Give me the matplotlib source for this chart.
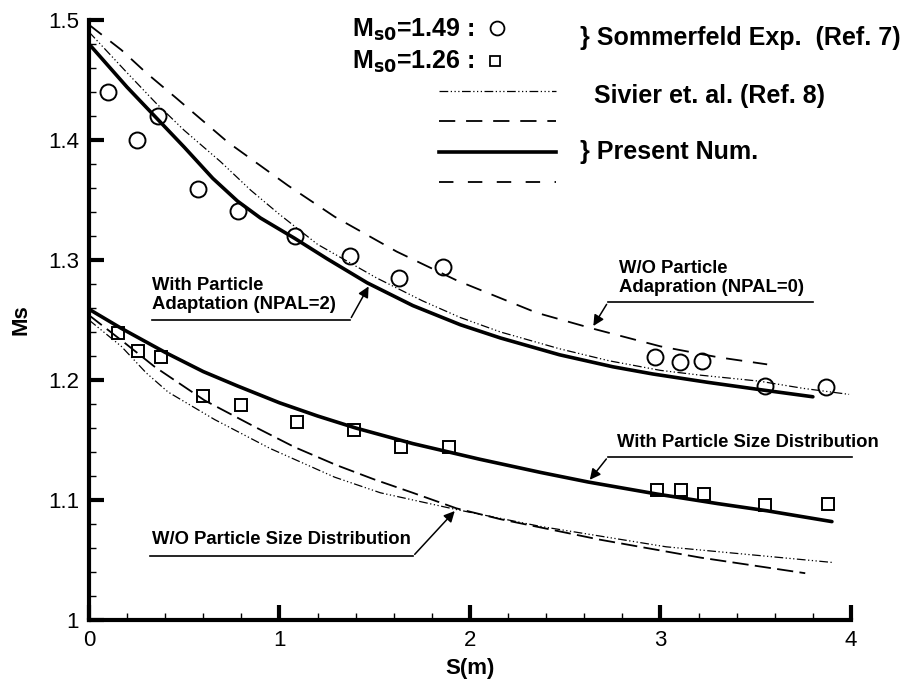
import matplotlib
matplotlib.use('Agg')
import matplotlib.pyplot as plt
from matplotlib.ticker import MultipleLocator

plt.rcParams['font.family'] = ['Liberation Sans', 'DejaVu Sans']

# Sommerfeld experiments
circ_x = [0.10, 0.25, 0.36, 0.57, 0.78, 1.08, 1.37, 1.63, 1.86, 2.97, 3.10, 3.22, 3.55, 3.87]
circ_y = [1.440, 1.400, 1.420, 1.359, 1.341, 1.320, 1.303, 1.285, 1.294, 1.219, 1.215, 1.216, 1.195, 1.194]
sq_x = [0.15, 0.26, 0.38, 0.60, 0.80, 1.09, 1.39, 1.64, 1.89, 2.98, 3.11, 3.23, 3.55, 3.88]
sq_y = [1.239, 1.224, 1.219, 1.187, 1.179, 1.165, 1.158, 1.144, 1.144, 1.108, 1.108, 1.105, 1.096, 1.097]

# Ms0 = 1.49
npal2_x = [0.0, 0.1, 0.2, 0.35, 0.5, 0.65, 0.78, 0.9, 1.08, 1.25, 1.46, 1.7, 1.95, 2.16,
           2.47, 2.75, 2.96, 3.25, 3.52, 3.80]
npal2_y = [1.480, 1.462, 1.444, 1.419, 1.394, 1.368, 1.349, 1.335, 1.318, 1.301, 1.281, 1.262,
           1.246, 1.235, 1.221, 1.211, 1.205, 1.198, 1.192, 1.186]
sivier_hi_x = [0.0, 0.1, 0.2, 0.35, 0.5, 0.69, 0.85, 1.0, 1.2, 1.51, 1.75, 1.95, 2.16, 2.47,
               2.73, 3.0, 3.21, 3.52, 3.75, 3.99]
sivier_hi_y = [1.490, 1.473, 1.456, 1.431, 1.408, 1.382, 1.358, 1.338, 1.313, 1.285, 1.266,
               1.252, 1.240, 1.226, 1.216, 1.208, 1.204, 1.199, 1.193, 1.188]
npal0_x = [0.0, 0.17, 0.3, 0.45, 0.73, 1.045, 1.29, 1.615, 1.93, 2.35, 2.64, 3.0, 3.3, 3.56]
npal0_y = [1.496, 1.475, 1.456, 1.436, 1.398, 1.362, 1.336, 1.307, 1.283, 1.256, 1.243, 1.228,
           1.219, 1.213]

# Ms0 = 1.26
size_x = [0.0, 0.17, 0.4, 0.6, 0.78, 1.0, 1.2, 1.4, 1.7, 2.05, 2.37, 2.62, 2.98, 3.3, 3.56, 3.90]
size_y = [1.259, 1.243, 1.223, 1.207, 1.195, 1.181, 1.170, 1.160, 1.147, 1.134, 1.123, 1.115,
          1.105, 1.097, 1.091, 1.082]
nosize_x = [0.0, 0.187, 0.345, 0.607, 0.87, 1.08, 1.30, 1.50, 1.70, 1.93, 2.16, 2.68, 3.21, 3.76]
nosize_y = [1.254, 1.231, 1.211, 1.183, 1.161, 1.144, 1.129, 1.117, 1.106, 1.093, 1.084, 1.067,
            1.052, 1.039]
sivier_lo_x = [0.0, 0.17, 0.3, 0.415, 0.66, 0.95, 1.29, 1.53, 1.93, 2.37, 3.03, 3.50, 3.90]
sivier_lo_y = [1.250, 1.228, 1.206, 1.190, 1.167, 1.143, 1.119, 1.106, 1.092, 1.078, 1.061,
               1.054, 1.048]

dashdot = (0, (7, 2, 1, 2, 1, 2, 1, 2))
long_dash = (0, (9, 6))
med_dash = (0, (9, 3.5))

fig = plt.figure(figsize=(9.17, 6.87), dpi=100)
ax = fig.add_axes([0.097, 0.0975, 0.831, 0.8735])

ax.plot(npal2_x, npal2_y, color='black', lw=2.6, solid_capstyle='round')
ax.plot(sivier_hi_x, sivier_hi_y, color='black', lw=0.9, linestyle=dashdot)
ax.plot(npal0_x, npal0_y, color='black', lw=1.3, linestyle=long_dash)
ax.plot(size_x, size_y, color='black', lw=2.6, solid_capstyle='round')
ax.plot(nosize_x, nosize_y, color='black', lw=1.3, linestyle=med_dash)
ax.plot(sivier_lo_x, sivier_lo_y, color='black', lw=0.9, linestyle=dashdot)

ax.plot(circ_x, circ_y, 'o', ms=11.5, mfc='none', mec='black', mew=1.4)
ax.plot(sq_x, sq_y, 's', ms=9, mfc='none', mec='black', mew=1.4)

ax.set_xlim(0, 4)
ax.set_ylim(1, 1.5)
ax.xaxis.set_minor_locator(MultipleLocator(0.2))
ax.yaxis.set_minor_locator(MultipleLocator(0.02))
ax.set_yticks([1.0, 1.1, 1.2, 1.3, 1.4, 1.5])
ax.set_yticklabels(['1', '1.1', '1.2', '1.3', '1.4', '1.5'])
ax.set_xticks([0, 1, 2, 3, 4])
ax.set_xticklabels(['0', '1', '2', '3', '4'])
ax.tick_params(which='major', direction='in', length=11, width=3, labelsize=16, pad=7)
ax.tick_params(which='minor', direction='in', length=5, width=1)
for side in ['top', 'right']:
    ax.spines[side].set_visible(False)
for side in ['left', 'bottom']:
    ax.spines[side].set_linewidth(3)

ax.set_xlabel('S(m)', fontsize=16, fontweight='bold', labelpad=5)
ax.set_ylabel('Ms', fontsize=16, fontweight='bold', labelpad=12)

# legend block
ax.text(1.38, 1.492, r'M$_{\mathbf{s0}}$=1.49 :', fontsize=18, fontweight='bold', va='center')
ax.text(1.38, 1.465, r'M$_{\mathbf{s0}}$=1.26 :', fontsize=18, fontweight='bold', va='center')
ax.plot([2.14], [1.493], 'o', ms=10, mfc='none', mec='black', mew=1.3, clip_on=False)
ax.plot([2.13], [1.466], 's', ms=7.5, mfc='none', mec='black', mew=1.3, clip_on=False)
ax.text(2.58, 1.485, '} Sommerfeld Exp.  (Ref. 7)', fontsize=18, fontweight='bold',
        va='center', clip_on=False)
ax.text(2.65, 1.437, 'Sivier et. al. (Ref. 8)', fontsize=18, fontweight='bold',
        va='center', clip_on=False)
ax.text(2.58, 1.390, '} Present Num.', fontsize=18, fontweight='bold', va='center')
ax.plot([1.84, 2.45], [1.441, 1.441], color='black', lw=0.9, linestyle=dashdot)
ax.plot([1.84, 2.45], [1.416, 1.416], color='black', lw=1.3, linestyle=long_dash)
ax.plot([1.84, 2.45], [1.390, 1.390], color='black', lw=2.6)
ax.plot([1.84, 2.45], [1.365, 1.365], color='black', lw=1.3, linestyle=(0, (8, 8)))

# annotations
arrow = dict(arrowstyle='-|>', color='black', lw=1.1, mutation_scale=16)
ann_font = dict(fontsize=13.3, fontweight='bold')

ax.text(0.33, 1.256, 'With Particle\nAdaptation (NPAL=2)', va='bottom', linespacing=1.15, **ann_font)
ax.plot([0.33, 1.37], [1.250, 1.250], color='black', lw=1.2)
ax.annotate('', xy=(1.475, 1.280), xytext=(1.37, 1.250), arrowprops=arrow)

ax.text(2.78, 1.270, 'W/O Particle\nAdapration (NPAL=0)', va='bottom', linespacing=1.15, **ann_font)
ax.plot([2.725, 3.80], [1.265, 1.265], color='black', lw=1.2)
ax.annotate('', xy=(2.64, 1.243), xytext=(2.725, 1.265), arrowprops=arrow)

ax.text(2.77, 1.141, 'With Particle Size Distribution', va='bottom', **ann_font)
ax.plot([2.725, 4.005], [1.136, 1.136], color='black', lw=1.2, clip_on=False)
ax.annotate('', xy=(2.62, 1.115), xytext=(2.725, 1.136), arrowprops=arrow)

ax.text(0.33, 1.060, 'W/O Particle Size Distribution', va='bottom', **ann_font)
ax.plot([0.32, 1.70], [1.053, 1.053], color='black', lw=1.2)
ax.annotate('', xy=(1.93, 1.0925), xytext=(1.70, 1.053), arrowprops=arrow)

fig.savefig('out.png', dpi=100)
